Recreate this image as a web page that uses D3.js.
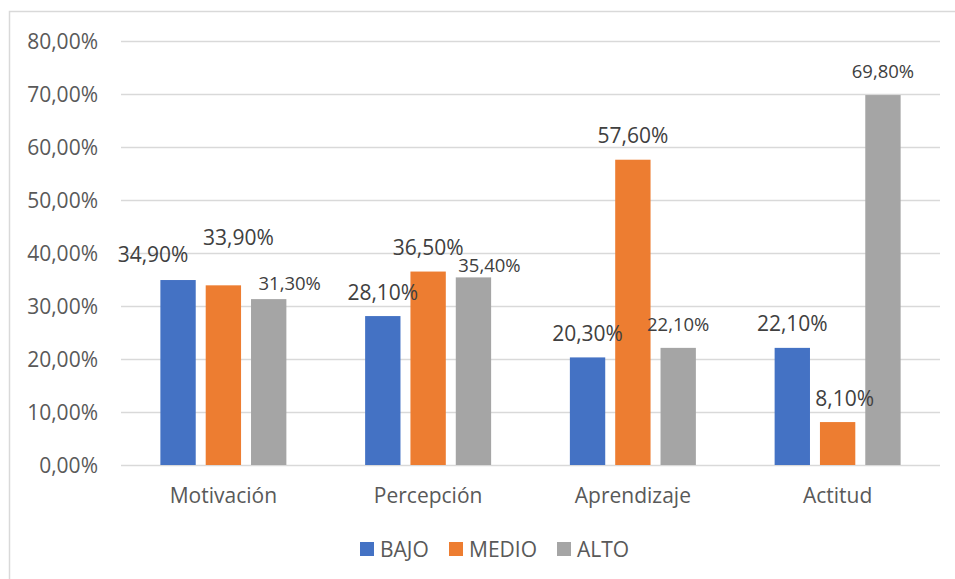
<!DOCTYPE html>
<html>
<head>
<meta charset="utf-8">
<script src="https://cdn.jsdelivr.net/npm/d3@7/dist/d3.min.js"></script>
<style>
  html, body { margin: 0; padding: 0; background: #fff; }
  svg { display: block; font-family: "Open Sans", "Noto Sans", sans-serif; }
</style>
</head>
<body>
<svg id="chart" width="955" height="579"></svg>
<script>
// Dimension categories and level series (shares, 0–1)
const categories = ["Motivación", "Percepción", "Aprendizaje", "Actitud"];
const seriesNames = ["BAJO", "MEDIO", "ALTO"];
const bajo  = [0.349, 0.281, 0.203, 0.221];
const medio = [0.339, 0.365, 0.576, 0.081];
const alto  = [0.313, 0.354, 0.221, 0.698];
const yTicks = [0, 0.1, 0.2, 0.3, 0.4, 0.5, 0.6, 0.7, 0.8];

const colors = ["#4472C4", "#ED7D31", "#A5A5A5"];
const seriesValues = [bajo, medio, alto];

// Hand-placed offsets (px) for labels that would collide with neighbours
const labelNudge = {
  "0-0": [-25, -2],
  "0-1": [15, -24],
  "0-2": [21, 8],
  "1-2": [16, 12],
  "3-1": [7, 0]
};

const esLocale = d3.formatLocale({ decimal: ",", thousands: ".", grouping: [3], currency: ["", " €"] });
const pct = esLocale.format(".2%");

const svg = d3.select("#chart");
const textColor = "#595959";
const gridColor = "#D9D9D9";

// Outer chart frame
svg.append("rect")
  .attr("x", 9.5).attr("y", 11.5)
  .attr("width", 1000).attr("height", 1000)
  .attr("fill", "none").attr("stroke", gridColor).attr("stroke-width", 1.5);

const plotLeft = 121, plotRight = 940, plotTop = 41, plotBottom = 465;

const x0 = d3.scaleBand().domain(categories).range([plotLeft, plotRight]).padding(0);
const x1 = d3.scaleBand().domain(seriesNames).range([-63, 63]).paddingInner(0.22).paddingOuter(0);
const y = d3.scaleLinear().domain([0, 0.8]).range([plotBottom, plotTop]);

// Y axis with gridlines
const yAxis = svg.append("g")
  .attr("transform", `translate(${plotLeft},0)`)
  .call(d3.axisLeft(y).tickValues(yTicks).tickSize(-(plotRight - plotLeft)).tickPadding(23).tickFormat(pct));
yAxis.select(".domain").remove();
yAxis.selectAll(".tick line").attr("stroke", gridColor).attr("stroke-width", 1.5);
yAxis.selectAll(".tick text")
  .attr("fill", textColor)
  .style("font-size", "21px")
  .style("font-family", "'Open Sans', 'Noto Sans', sans-serif")
  .attr("dy", "0.34em");

// X axis category labels
const xAxis = svg.append("g")
  .attr("transform", `translate(0,${plotBottom})`)
  .call(d3.axisBottom(x0).tickSize(0).tickPadding(0));
xAxis.select(".domain").remove();
xAxis.selectAll(".tick text")
  .attr("y", 38).attr("dy", 0)
  .attr("fill", textColor)
  .style("font-size", "21px")
  .style("font-family", "'Open Sans', 'Noto Sans', sans-serif");

// Bars and value labels
const groups = svg.append("g").selectAll("g")
  .data(categories)
  .join("g")
  .attr("transform", d => `translate(${x0(d) + x0.bandwidth() / 2},0)`);

groups.each(function (cat, ci) {
  const g = d3.select(this);
  seriesNames.forEach((s, si) => {
    const v = seriesValues[si][ci];
    g.append("rect")
      .attr("x", x1(s))
      .attr("y", y(v))
      .attr("width", x1.bandwidth())
      .attr("height", y(0) - y(v))
      .attr("fill", colors[si]);
  });
  seriesNames.forEach((s, si) => {
    const v = seriesValues[si][ci];
    const n = labelNudge[ci + "-" + si] || [0, 0];
    g.append("text")
      .attr("x", x1(s) + x1.bandwidth() / 2 + n[0])
      .attr("y", y(v) - 24 + n[1])
      .attr("dy", "0.36em")
      .attr("text-anchor", "middle")
      .attr("fill", "#404040")
      .style("font-size", si === 2 ? "18.5px" : "21px")
      .text(pct(v));
  });
});

// Legend
const legendItems = [
  { name: seriesNames[0], sx: 360, tx: 380 },
  { name: seriesNames[1], sx: 449, tx: 469 },
  { name: seriesNames[2], sx: 557, tx: 577 }
];
const legend = svg.append("g");
legendItems.forEach((it, i) => {
  legend.append("rect")
    .attr("x", it.sx).attr("y", 542).attr("width", 14).attr("height", 14)
    .attr("fill", colors[i]);
  legend.append("text")
    .attr("x", it.tx).attr("y", 549).attr("dy", "0.36em")
    .attr("fill", textColor)
    .style("font-size", "21px")
    .text(it.name);
});
</script>
</body>
</html>
